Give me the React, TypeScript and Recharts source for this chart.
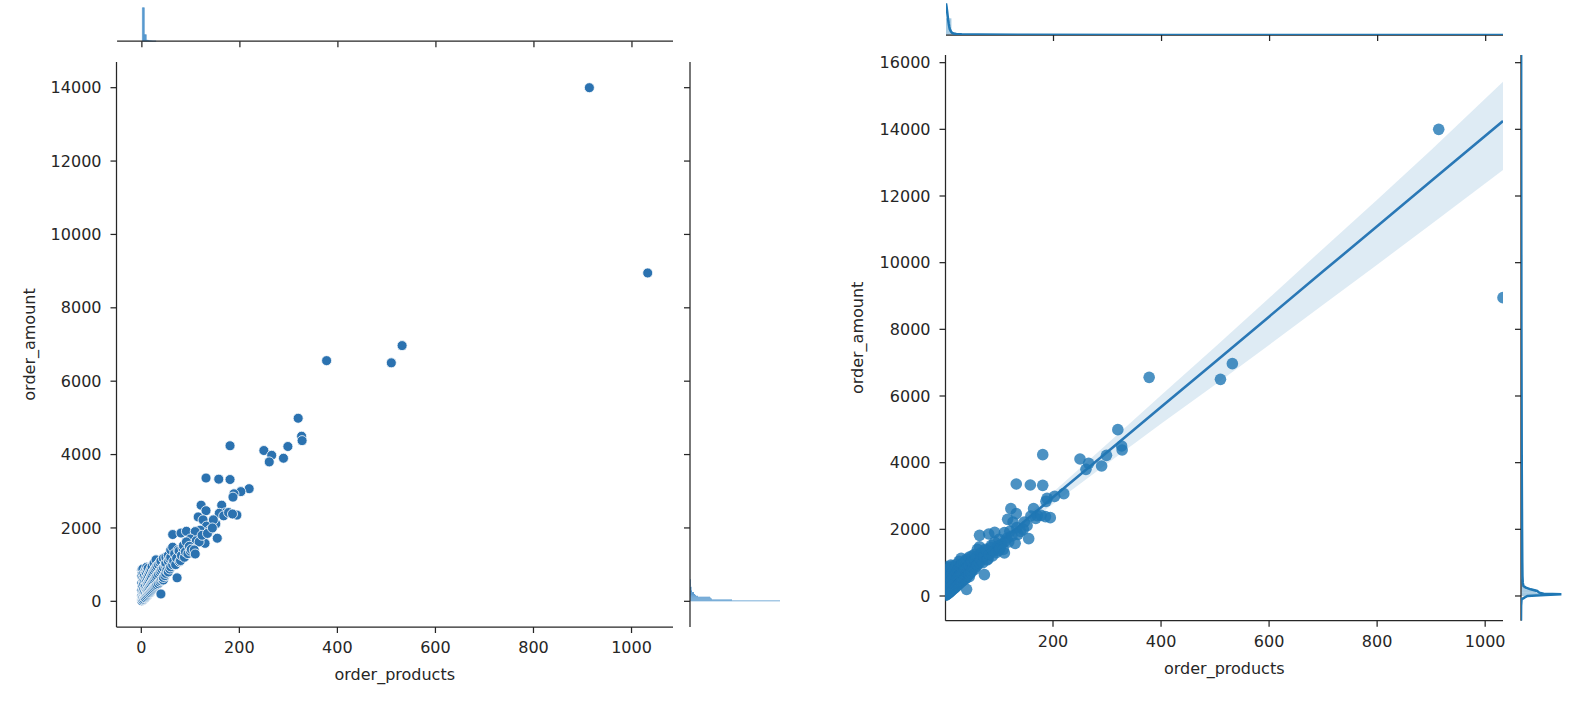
import React from 'react';
import { ComposedChart, Scatter, XAxis, YAxis, Line, Area, ReferenceArea, Label } from 'recharts';

// ---------- data ----------
// [order_products, order_amount]
const orderPoints: [number, number][] = [
  [914, 14000], [1033, 8950], [378, 6560], [510, 6500], [532, 6970], [320, 4990], [327, 4500], [328, 4380],
  [299, 4220], [290, 3900], [250, 4110], [266, 3980], [261, 3800], [181, 4240], [132, 3360], [158, 3330],
  [181, 3320], [220, 3070], [203, 2990], [189, 2930], [187, 2840], [122, 2620], [164, 2620], [132, 2470],
  [116, 2300], [171, 2410], [159, 2400], [195, 2350], [126, 2220], [133, 2050], [152, 2110], [147, 2220],
  [120, 1940], [140, 1940], [155, 1720], [115, 1740], [130, 1580], [64, 1820], [81, 1860], [92, 1910],
  [110, 1900], [100, 1700], [105, 1550], [112, 1650], [118, 1620], [124, 1800], [135, 1850], [145, 2000],
  [168, 2330], [178, 2420], [186, 2380],
  [1, 15], [1, 60], [1, 150], [1, 300], [1, 500], [1, 700], [1, 850],
  [2, 90], [2, 400], [2, 780],
  [3, 40], [3, 120], [3, 250], [3, 420], [3, 620], [3, 880],
  [4, 200], [4, 560],
  [5, 60], [5, 330], [5, 480], [5, 760],
  [6, 150], [6, 680],
  [7, 90], [7, 260], [7, 560],
  [8, 100], [8, 400], [8, 840],
  [9, 200], [9, 640],
  [10, 130], [10, 330], [10, 540], [10, 780], [11, 930],
  [12, 160], [12, 300], [12, 470], [12, 650], [12, 850],
  [14, 190], [14, 340], [14, 510], [14, 700], [14, 900],
  [16, 220], [16, 380], [16, 560], [16, 760],
  [18, 240], [18, 420], [18, 610], [18, 820],
  [20, 270], [20, 460], [20, 660], [20, 880],
  [22, 300], [22, 500], [22, 720], [22, 950],
  [24, 330], [24, 540], [24, 780],
  [26, 360], [26, 580], [26, 830], [26, 1040],
  [28, 390], [28, 620], [28, 880],
  [30, 420], [30, 660], [30, 920], [30, 1130],
  [32, 450], [32, 700], [32, 960],
  [35, 480], [35, 740], [35, 1000],
  [38, 520], [38, 790], [38, 1050],
  [40, 200], [40, 560], [40, 830], [40, 1100],
  [42, 600], [42, 880],
  [45, 580], [45, 650], [45, 920], [45, 1170],
  [48, 700], [48, 980], [49, 1020],
  [50, 760], [50, 1050], [50, 1200], [52, 840],
  [55, 800], [55, 1100], [55, 1250],
  [58, 880], [58, 1160],
  [60, 940], [60, 1200], [60, 1400],
  [64, 1000], [64, 1475], [66, 1100], [68, 1300], [70, 1000], [72, 1180], [73, 640], [75, 1400],
  [77, 1370], [78, 1080], [80, 1110], [82, 1250], [85, 1450], [86, 1520], [88, 1200], [90, 1350],
  [92, 1620], [95, 1300], [98, 1500], [100, 1370], [102, 1420], [108, 1400], [110, 1290],
];

// regression fit and its confidence band (right panel)
const fitProducts = [1, 100, 200, 300, 400, 500, 600, 700, 800, 900, 1033];
const fitAmount = [260, 1600, 2960, 4310, 5670, 7020, 8380, 9740, 11090, 12450, 14250];
const fitLow = [200, 1510, 2760, 3970, 5170, 6340, 7530, 8740, 9940, 11150, 12780];
const fitHigh = [320, 1680, 3110, 4560, 6020, 7470, 8940, 10420, 11890, 13380, 15430];

// left panel marginal histograms
const leftTopBinStart = [1, 5, 9, 13, 17, 21];
const leftTopBinEnd = [5, 9, 13, 17, 21, 29];
const leftTopCounts = [4450, 870, 120, 60, 40, 20];

const leftSideBinStart = [0, 25, 50, 75, 100, 125, 150, 175, 200, 225, 250, 300, 400];
const leftSideBinEnd = [25, 50, 75, 100, 125, 150, 175, 200, 225, 250, 300, 400, 600];
const leftSideCounts = [1800, 840, 440, 420, 400, 160, 120, 100, 80, 80, 40, 30, 15];

// right panel marginals (density, relative)
const rightTopKdeX = [1, 2, 3, 4, 5, 6, 7, 8, 10, 12, 15, 20, 30, 60, 150, 400, 1033];
const rightTopKdeY = [0.95, 0.85, 0.72, 0.58, 0.45, 0.34, 0.25, 0.18, 0.11, 0.07, 0.045, 0.03, 0.02, 0.012, 0.006, 0.003, 0.001];
const rightTopHistStart = [1, 11, 21, 41];
const rightTopHistEnd = [11, 21, 41, 81];
const rightTopHistDensity = [0.5, 0.06, 0.02, 0.008];

const rightSideKdeAmount = [-741, -300, -100, 0, 30, 55, 70, 100, 150, 200, 250, 300, 400, 600, 1000, 2000, 4000, 8000, 14000, 16230];
const rightSideKdeDensity = [0, 0.002, 0.01, 0.12, 0.45, 0.75, 0.42, 0.34, 0.3, 0.18, 0.09, 0.045, 0.033, 0.027, 0.024, 0.02, 0.014, 0.008, 0.004, 0.003];
const rightSideHistStart = [0, 100, 200, 300];
const rightSideHistEnd = [100, 200, 300, 500];
const rightSideHistDensity = [0.36, 0.28, 0.09, 0.03];

// ticks
const productTicksLeft = [0, 200, 400, 600, 800, 1000];
const productTicksRight = [200, 400, 600, 800, 1000];
const amountTicksLeft = [0, 2000, 4000, 6000, 8000, 10000, 12000, 14000];
const amountTicksRight = [0, 2000, 4000, 6000, 8000, 10000, 12000, 14000, 16000];

// domains (matplotlib autoscale)
const leftXDomain: [number, number] = [-50.6, 1084.6];
const leftYDomain: [number, number] = [-700, 14700];
const rightXDomain: [number, number] = [1, 1033];
const rightYDomain: [number, number] = [-741, 16230];

// ---------- styles ----------
const FONT = "'DejaVu Sans', sans-serif";
const INK = '#262626';
const BLUE = '#1f77b4';
const axisLine = { stroke: INK, strokeWidth: 1.25 };
const tickLine = { stroke: INK, strokeWidth: 1.25 };
const tickStyle = { fill: INK, fontSize: 16, fontFamily: FONT };

const points = orderPoints.map(([x, y]) => ({ x, y }));
const fitData = fitProducts.map((x, i) => ({ x, fit: fitAmount[i], band: [fitLow[i], fitHigh[i]] }));

const yTitle = (text: string, dx: number) => (props: any) => {
  const vb = props.viewBox || { x: 0, y: 0, width: 0, height: 0 };
  const x = vb.x + dx;
  const y = vb.y + vb.height / 2;
  return (
    <text x={x} y={y} transform={`rotate(-90 ${x} ${y})`} textAnchor="middle" fill={INK} fontSize={16} fontFamily={FONT}>
      {text}
    </text>
  );
};
const xTitle = (text: string, dy: number) => (props: any) => {
  const vb = props.viewBox || { x: 0, y: 0, width: 0, height: 0 };
  return (
    <text x={vb.x + vb.width / 2} y={vb.y + dy} textAnchor="middle" fill={INK} fontSize={16} fontFamily={FONT}>
      {text}
    </text>
  );
};

const none = () => <g />;
const noLabel = () => <g />;

export default function App() {
  const leftTopMax = Math.max(...leftTopCounts);
  const leftSideMax = Math.max(...leftSideCounts);
  return (
    <div style={{ position: 'absolute', left: 0, top: 0, width: 1588, height: 702, overflow: 'hidden', background: '#fff' }}>
      {/* ---------- LEFT: scatter jointplot ---------- */}
      <div style={{ position: 'absolute', left: 0, top: 0 }}>
        <ComposedChart width={700} height={702} margin={{ top: 62, right: 27, bottom: 15, left: 25 }}>
          <XAxis type="number" dataKey="x" domain={leftXDomain} allowDataOverflow ticks={productTicksLeft} interval={0}
            height={60} axisLine={axisLine} tickLine={tickLine} tick={tickStyle} tickSize={6} tickMargin={9}>
            <Label content={xTitle('order_products', 53)} />
          </XAxis>
          <YAxis type="number" dataKey="y" domain={leftYDomain} allowDataOverflow ticks={amountTicksLeft} interval={0}
            width={91.5} axisLine={axisLine} tickLine={tickLine} tick={tickStyle} tickSize={6} tickMargin={9}>
            <Label content={yTitle('order_amount', 10)} />
          </YAxis>
          <Scatter data={points} isAnimationActive={false}
            shape={(p: any) => <circle cx={p.cx} cy={p.cy} r={5} fill="#2b72b0" stroke="#ffffff" strokeWidth={0.8} />} />
        </ComposedChart>
      </div>

      {/* top marginal histogram */}
      <div style={{ position: 'absolute', left: 116.5, top: 6.3 }}>
        <ComposedChart width={556.5} height={45.2} margin={{ top: 0, right: 0, bottom: 0, left: 0 }}
          data={leftTopBinStart.map((x, i) => ({ x, y: leftTopCounts[i] }))}>
          <XAxis type="number" dataKey="x" domain={leftXDomain} allowDataOverflow ticks={productTicksLeft} interval={0}
            height={10} axisLine={axisLine} tickLine={tickLine} tick={noLabel} tickSize={6} />
          <YAxis hide type="number" dataKey="y" domain={[0, leftTopMax * 1.05]} allowDataOverflow />
          <Scatter isAnimationActive={false} shape={none} />
          {leftTopBinStart.map((s, i) => (
            <ReferenceArea key={i} x1={s} x2={leftTopBinEnd[i]} y1={0} y2={leftTopCounts[i]}
              fill="#5b9bd0" fillOpacity={1} stroke="#3a86c2" strokeWidth={0.5} ifOverflow="visible" />
          ))}
        </ComposedChart>
      </div>

      {/* right marginal histogram */}
      <div style={{ position: 'absolute', left: 682, top: 62 }}>
        <ComposedChart width={118} height={565} margin={{ top: 0, right: 0, bottom: 0, left: 0 }}
          data={leftSideBinStart.map((y, i) => ({ x: leftSideCounts[i], y }))}>
          <XAxis hide type="number" dataKey="x" domain={[0, leftSideMax * 110 / 90]} allowDataOverflow />
          <YAxis type="number" dataKey="y" domain={leftYDomain} allowDataOverflow ticks={amountTicksLeft} interval={0}
            width={8} axisLine={axisLine} tickLine={tickLine} tick={noLabel} tickSize={6} />
          <Scatter isAnimationActive={false} shape={none} />
          {leftSideBinStart.map((s, i) => (
            <ReferenceArea key={i} y1={s} y2={leftSideBinEnd[i]} x1={0} x2={leftSideCounts[i]}
              fill="#4f93cc" fillOpacity={1} stroke="none" ifOverflow="visible" />
          ))}
        </ComposedChart>
      </div>

      {/* ---------- RIGHT: regression jointplot ---------- */}
      <div style={{ position: 'absolute', left: 760, top: 0 }}>
        <ComposedChart width={800} height={702} margin={{ top: 55, right: 57, bottom: 21.3, left: 85.5 }} data={fitData}>
          <XAxis type="number" dataKey="x" domain={rightXDomain} allowDataOverflow ticks={productTicksRight} interval={0}
            height={60} axisLine={axisLine} tickLine={tickLine} tick={tickStyle} tickSize={6} tickMargin={9}>
            <Label content={xTitle('order_products', 53)} />
          </XAxis>
          <YAxis type="number" dataKey="y" domain={rightYDomain} allowDataOverflow ticks={amountTicksRight} interval={0}
            width={100} axisLine={axisLine} tickLine={tickLine} tick={tickStyle} tickSize={6} tickMargin={9}>
            <Label content={yTitle('order_amount', 18)} />
          </YAxis>
          <Scatter data={points} isAnimationActive={false}
            shape={(p: any) => <circle cx={p.cx} cy={p.cy} r={5.8} fill={BLUE} fillOpacity={0.8} />} />
          <Area dataKey="band" type="linear" stroke="none" fill={BLUE} fillOpacity={0.15} isAnimationActive={false} dot={false} activeDot={false} />
          <Line dataKey="fit" type="linear" stroke="#2a78b6" strokeWidth={2.6} dot={false} activeDot={false} isAnimationActive={false} />
        </ComposedChart>
      </div>

      {/* top marginal: hist + kde */}
      <div style={{ position: 'absolute', left: 945.5, top: 0 }}>
        <ComposedChart width={557.5} height={45} margin={{ top: 0, right: 0, bottom: 0, left: 0 }}>
          <XAxis type="number" dataKey="x" domain={rightXDomain} allowDataOverflow ticks={productTicksRight} interval={0}
            height={10} axisLine={axisLine} tickLine={tickLine} tick={noLabel} tickSize={6} />
          <YAxis hide type="number" dataKey="y" domain={[0, 1.05]} allowDataOverflow />
          {rightTopHistStart.map((s, i) => (
            <ReferenceArea key={i} x1={s} x2={rightTopHistEnd[i]} y1={0} y2={rightTopHistDensity[i]}
              fill={BLUE} fillOpacity={0.4} stroke="none" ifOverflow="hidden" />
          ))}
          <Scatter data={rightTopKdeX.map((x, i) => ({ x, y: rightTopKdeY[i] }))} isAnimationActive={false}
            shape={none} line={{ stroke: BLUE, strokeWidth: 2.5 }} lineType="joint" />
        </ComposedChart>
      </div>

      {/* right marginal: hist + kde */}
      <div style={{ position: 'absolute', left: 1512.7, top: 55 }}>
        <ComposedChart width={75.3} height={565.7} margin={{ top: 0, right: 0, bottom: 0, left: 0 }}>
          <XAxis hide type="number" dataKey="x" domain={[0, 1.25]} allowDataOverflow />
          <YAxis type="number" dataKey="y" domain={rightYDomain} allowDataOverflow ticks={amountTicksRight} interval={0}
            width={8} axisLine={axisLine} tickLine={tickLine} tick={noLabel} tickSize={6} />
          {rightSideHistStart.map((s, i) => (
            <ReferenceArea key={i} y1={s} y2={rightSideHistEnd[i]} x1={0} x2={rightSideHistDensity[i]}
              fill={BLUE} fillOpacity={0.4} stroke="none" ifOverflow="hidden" />
          ))}
          <Scatter data={rightSideKdeAmount.map((y, i) => ({ x: rightSideKdeDensity[i], y }))} isAnimationActive={false}
            shape={none} line={{ stroke: BLUE, strokeWidth: 2.5 }} lineType="joint" />
        </ComposedChart>
      </div>
    </div>
  );
}
